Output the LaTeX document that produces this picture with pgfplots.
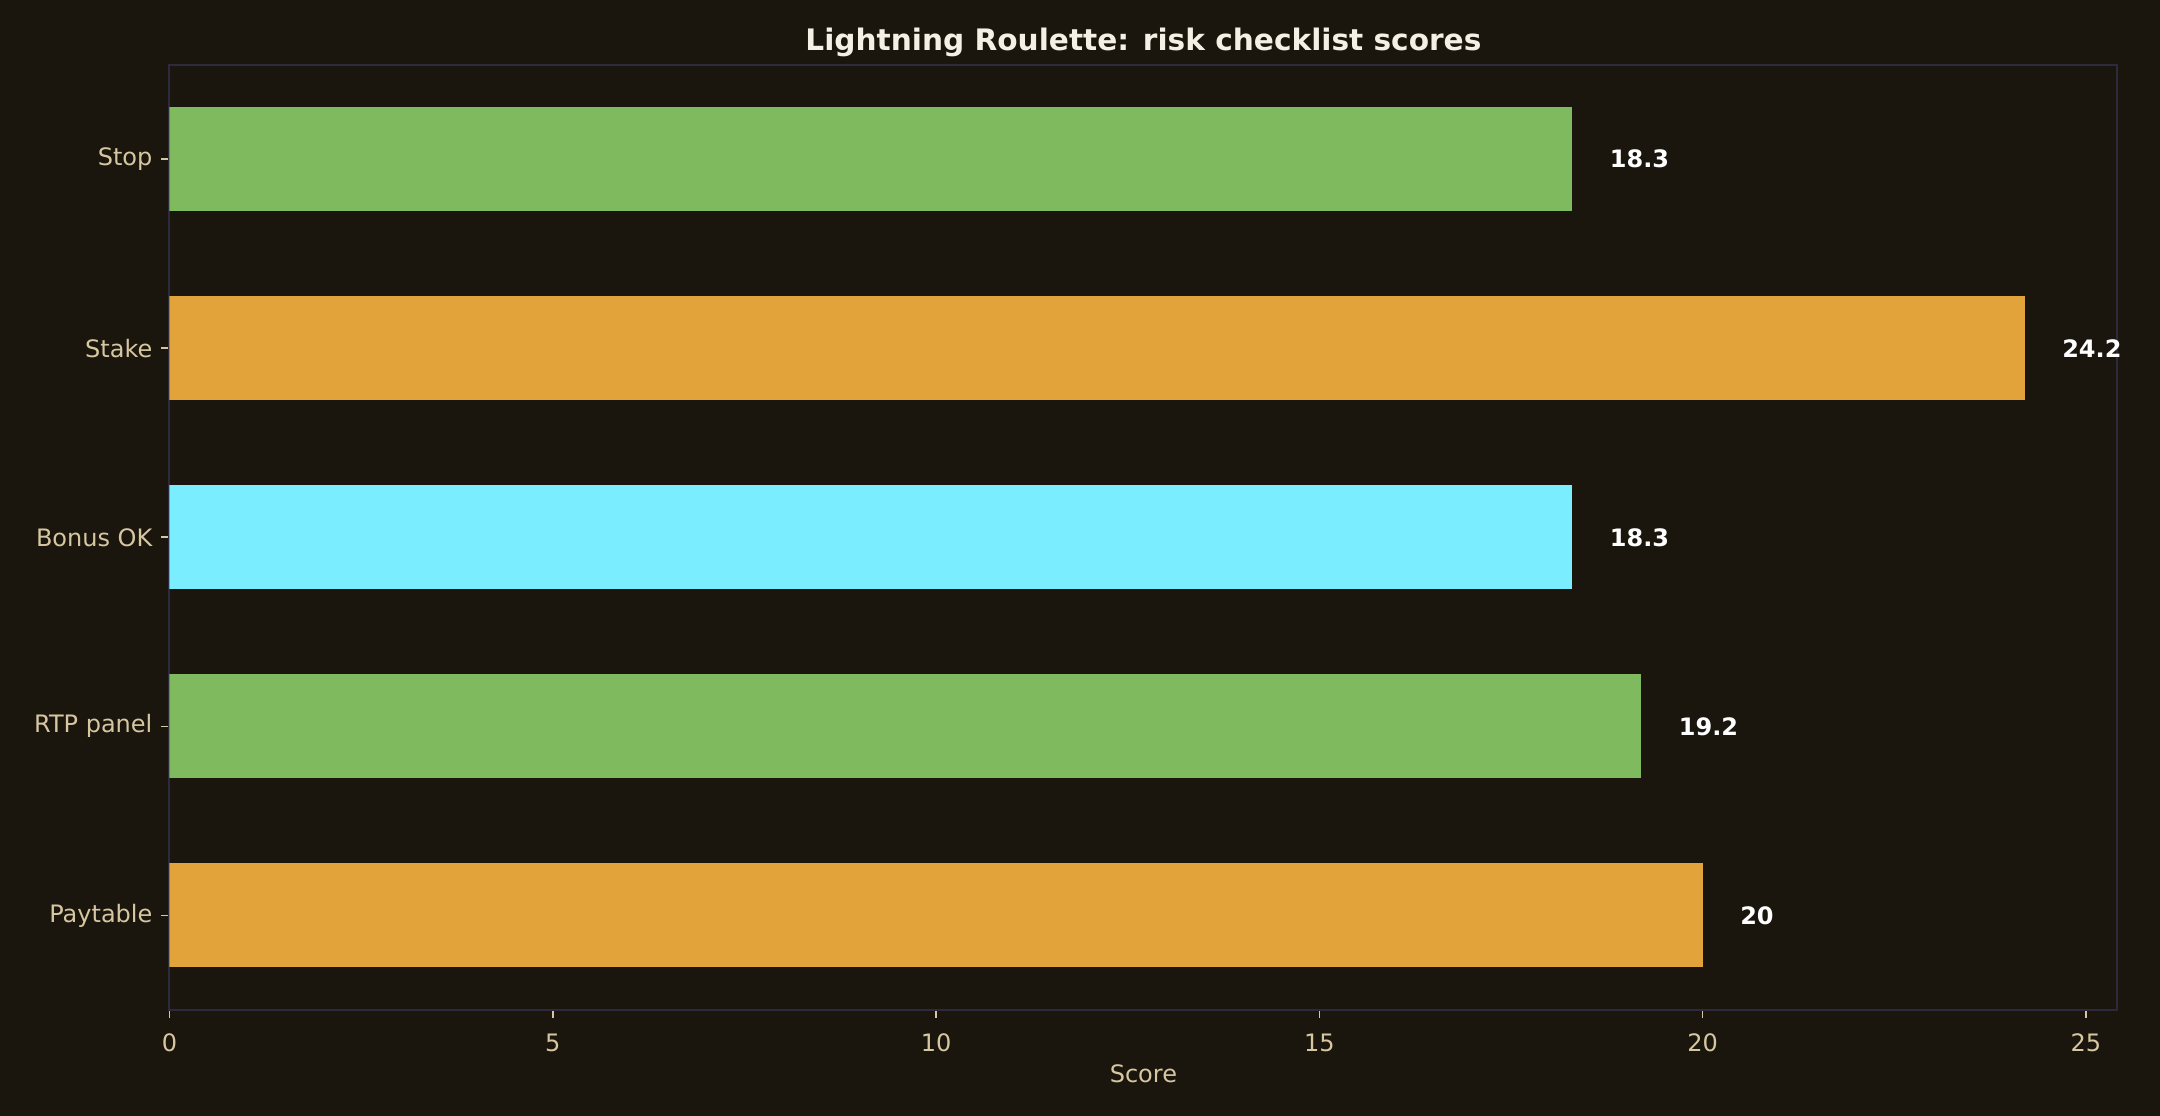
\documentclass[border=0pt]{standalone}
\usepackage{pgfplots}
\pgfplotsset{compat=1.18}
\usepackage{fontspec}
\setmainfont{DejaVu Sans}

\definecolor{bg}{HTML}{1A150D}
\definecolor{frame}{HTML}{2E2A3E}
\definecolor{ticktxt}{HTML}{D6C7A1}
\definecolor{titletxt}{HTML}{F5F0E6}
\definecolor{cgreen}{HTML}{7FBA5F}
\definecolor{corange}{HTML}{E2A43A}
\definecolor{ccyan}{HTML}{7AEEFE}

\begin{document}
\begin{tikzpicture}
	% page background, 1080 x 558 bp
	\fill[bg] (-84.7bp,-53bp) rectangle (995.3bp,505bp);
	\begin{axis}[
		scale only axis,
		width=974bp, height=472.7bp,
		xbar, bar width=0.55, bar shift=0pt,
		xmin=0, xmax=25.41,
		ymin=-0.5, ymax=4.5,
		xtick={0,5,10,15,20,25},
		ytick={0,1,2,3,4},
		yticklabels={Paytable,RTP panel,Bonus OK,Stake,Stop},
		tick align=outside,
		tick pos=left,
		major tick length=4bp,
		tick style={ticktxt, line width=0.8bp},
		axis line style={frame, line width=1bp},
		ticklabel style={font=\fontsize{12bp}{14bp}\selectfont, text=ticktxt},
		xticklabel style={yshift=-4.5bp},
		yticklabel style={xshift=-1bp},
		/pgf/number format/assume math mode=true,
		xlabel=Score,
		xlabel style={font=\fontsize{12bp}{14bp}\selectfont, text=ticktxt, yshift=0.5bp},
		title=Lightning Roulette: risk checklist scores,
		title style={font=\bfseries\fontsize{14.8bp}{17bp}\selectfont, text=titletxt, yshift=-5.5bp},
		point meta=explicit symbolic,
		nodes near coords,
		nodes near coords style={anchor=west, inner sep=0pt, xshift=18.6bp,
			font=\bfseries\fontsize{12bp}{14bp}\selectfont, text=white},
		axis background/.style={fill=bg},
	]
	\addplot[draw=none, fill=corange] coordinates {(20,0) [20]};
	\addplot[draw=none, fill=cgreen] coordinates {(19.2,1) [19.2]};
	\addplot[draw=none, fill=ccyan] coordinates {(18.3,2) [18.3]};
	\addplot[draw=none, fill=corange] coordinates {(24.2,3) [24.2]};
	\addplot[draw=none, fill=cgreen] coordinates {(18.3,4) [18.3]};
	\end{axis}
\end{tikzpicture}
\end{document}
